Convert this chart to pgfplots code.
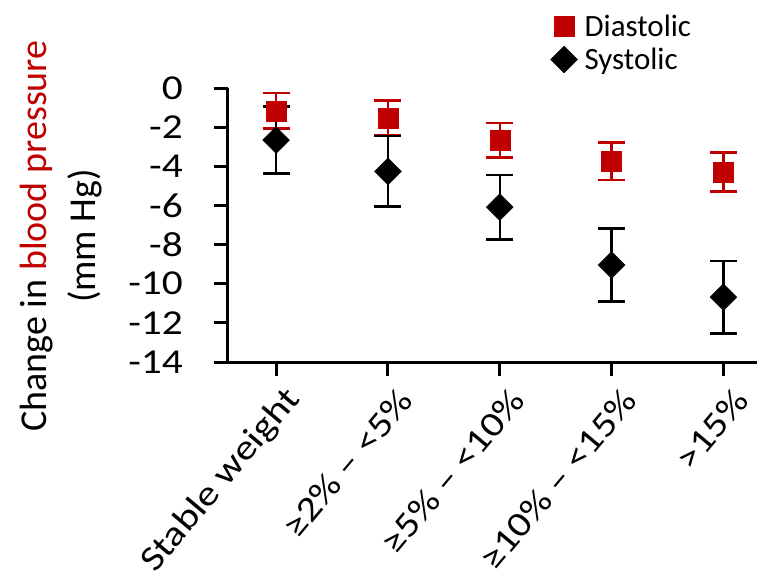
\documentclass[border=0pt]{standalone}
\usepackage{pgfplots}
\pgfplotsset{compat=1.18}
\usetikzlibrary{calc}
\usepackage{fontspec}
\setmainfont{Carlito}
\newfontfamily\tickfont[FakeStretch=1.18]{Carlito}
\definecolor{dred}{RGB}{192,0,0}
\begin{document}
\begin{tikzpicture}
\begin{axis}[
  name=ax,
  scale only axis, width=529pt, height=274pt,
  xmin=-0.43, xmax=4.3, ymin=-14, ymax=0,
  axis x line*=bottom, axis y line*=left,
  axis line style={line width=3pt, -},
  tick align=outside,
  major tick length=14pt,
  tick style={line width=3pt, black},
  xtick={0,1,2,3,4},
  xticklabels={Stable weight, ≥2\% – <5\%, ≥5\% – <10\%, ≥10\% – <15\%, >15\%},
  ytick={-14,-12,...,0},
  /pgf/number format/assume math mode=true,
  tick label style={inner sep=0pt},
  xticklabel style={font=\tickfont\fontsize{35}{40}\selectfont, xshift=18pt, yshift=-18pt, rotate=50, anchor=east},
  yticklabel style={font=\tickfont\fontsize{35}{40}\selectfont, anchor=east, xshift=-31pt},
  ylabel={Change in \textcolor{dred}{blood pressure}\\(mm Hg)},
  ylabel style={at={(rel axis cs:-0.316,0.46)}, anchor=center, align=center, font=\fontsize{38}{49}\selectfont},
  legend style={at={(rel axis cs:0.604,1.282)}, anchor=north west, draw=none, fill=none,
     font=\fontsize{31}{36}\selectfont, row sep=6pt, column sep=5pt},
  legend cell align=left,
  clip=false,
]
\addplot[only marks, mark=square*, mark size=10pt, color=dred,
  error bars/.cd, y dir=both, y explicit,
  error bar style={line width=2.5pt, dred},
  error mark options={rotate=90, line width=2.5pt, mark size=13.5pt, dred}]
  coordinates {
  (0,-1.16) +- (0,0.90)
  (1,-1.53) +- (0,0.88)
  (2,-2.68) +- (0,0.88)
  (3,-3.74) +- (0,0.96)
  (4,-4.30) +- (0,1.00)
  };
\addlegendentry{Diastolic}
\addplot[only marks, mark=square*, mark size=9.5pt, mark options={rotate=45}, color=black,
  error bars/.cd, y dir=both, y explicit,
  error bar style={line width=2.5pt, black},
  error mark options={rotate=90, line width=2.5pt, mark size=13.5pt, black}]
  coordinates {
  (0,-2.66) +- (0,1.72)
  (1,-4.26) +- (0,1.80)
  (2,-6.09) +- (0,1.64)
  (3,-9.04) +- (0,1.87)
  (4,-10.69) +- (0,1.85)
  };
\addlegendentry{Systolic}
\end{axis}
\pgfresetboundingbox
\path[use as bounding box] ($(ax.south west)+(-228pt,-219pt)$) rectangle ++(761pt,581pt);
\end{tikzpicture}
\end{document}
